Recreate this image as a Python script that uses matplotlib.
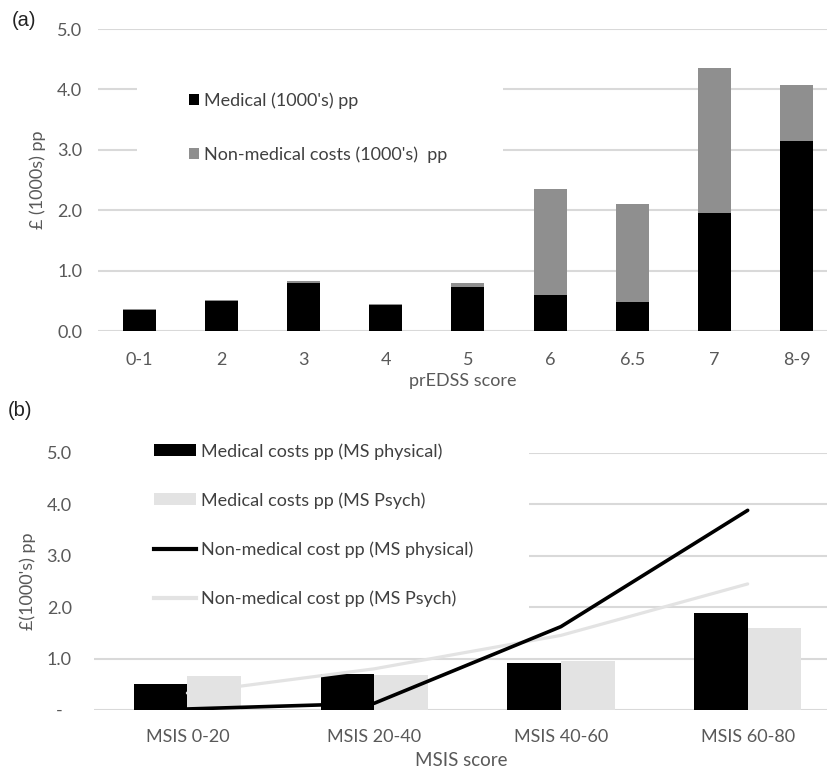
import matplotlib
matplotlib.use("Agg")
import matplotlib.pyplot as plt
import numpy as np
from matplotlib.patches import Rectangle, Patch
from matplotlib.lines import Line2D

plt.rcParams['font.family'] = ['Lato', 'DejaVu Sans']

# ---- Panel (a) data ----
edss_cats = ["0-1", "2", "3", "4", "5", "6", "6.5", "7", "8-9"]
edss_medical = [0.35, 0.50, 0.80, 0.43, 0.73, 0.59, 0.48, 1.96, 3.14]
edss_nonmedical = [0.02, 0.02, 0.03, 0.02, 0.07, 1.76, 1.62, 2.40, 0.93]

# ---- Panel (b) data ----
msis_cats = ["MSIS 0-20", "MSIS 20-40", "MSIS 40-60", "MSIS 60-80"]
msis_med_phys = [0.50, 0.70, 0.91, 1.88]
msis_med_psych = [0.66, 0.68, 0.95, 1.59]
msis_nonmed_phys = [0.02, 0.13, 1.62, 3.88]
msis_nonmed_psych = [0.33, 0.80, 1.45, 2.45]

yticks = [0, 1, 2, 3, 4, 5]
yticklabels_a = ["0.0", "1.0", "2.0", "3.0", "4.0", "5.0"]
yticklabels_b = ["-  ", "1.0", "2.0", "3.0", "4.0", "5.0"]

TXT = "#595959"
LEG = "#404040"
GRID = "#d9d9d9"
FS = 13

fig = plt.figure(figsize=(8.28, 7.75), dpi=100)

# ================= Panel (a) =================
ax1 = fig.add_axes([98/828, 1-331/775, 730/828, (331-29)/775])
x = np.arange(len(edss_cats))
ax1.bar(x, edss_medical, width=0.4, color="black", zorder=3)
ax1.bar(x, edss_nonmedical, width=0.4, bottom=edss_medical, color="#8f8f8f",
        zorder=3)
ax1.set_xlim(-0.5, 8.38)
ax1.set_ylim(0, 5.0)
ax1.set_yticks(yticks)
ax1.set_yticklabels(yticklabels_a)
ax1.set_xticks(x)
ax1.set_xticklabels(edss_cats)
ax1.yaxis.grid(True, color=GRID, linewidth=1.5, zorder=0)
ax1.set_axisbelow(True)
for s in ax1.spines.values():
    s.set_visible(False)
ax1.tick_params(axis='both', length=0, labelsize=FS, labelcolor=TXT)
ax1.tick_params(axis='x', pad=15)
ax1.tick_params(axis='y', pad=11.5)
ax1.set_xlabel("prEDSS score", fontsize=FS, color=TXT, labelpad=4)
ax1.set_ylabel("£ (1000s) pp", fontsize=FS, color=TXT, labelpad=8)
# white legend background (covers gridlines like the original)
ax1.add_patch(Rectangle((39/730, (331-172)/302), (503-137)/730, 100/302,
                        transform=ax1.transAxes, facecolor="white",
                        edgecolor="none", zorder=1))
h1 = [Patch(facecolor="black"), Patch(facecolor="#8f8f8f")]
leg1 = ax1.legend(h1, ["Medical (1000's) pp", "Non-medical costs (1000's)  pp"],
                  loc="upper left", bbox_to_anchor=(91/730, (331-92)/302),
                  frameon=False, fontsize=FS, handlelength=0.55,
                  handleheight=0.55, handletextpad=0.3, labelspacing=2.1,
                  borderaxespad=0, borderpad=0)
for t in leg1.get_texts():
    t.set_color(LEG)
fig.text(12/828, 1-21/775, "(a)", fontsize=14.5, color="#222222",
         family=['Liberation Sans', 'DejaVu Sans'], va="center", ha="left")

# ================= Panel (b) =================
ax2 = fig.add_axes([94/828, 1-710/775, 734/828, (710-452.7)/775])
xb = np.arange(len(msis_cats))
bw = 0.287
ax2.bar(xb - bw/2, msis_med_phys, width=bw, color="black", zorder=3)
ax2.bar(xb + bw/2, msis_med_psych, width=bw, color="#e3e3e3", zorder=3)
ax2.plot(xb, msis_nonmed_psych, color="#e3e3e3", linewidth=2.3, zorder=4,
         solid_capstyle="round")
ax2.plot(xb, msis_nonmed_phys, color="black", linewidth=2.6, zorder=5,
         solid_capstyle="round")
ax2.set_xlim(-0.5, 3.43)
ax2.set_ylim(0, 5.0)
ax2.set_yticks(yticks)
ax2.set_yticklabels(yticklabels_b)
ax2.set_xticks(xb)
ax2.set_xticklabels(msis_cats)
ax2.yaxis.grid(True, color=GRID, linewidth=1.5, zorder=0)
ax2.set_axisbelow(True)
for s in ax2.spines.values():
    s.set_visible(False)
ax2.tick_params(axis='both', length=0, labelsize=FS, labelcolor=TXT)
ax2.tick_params(axis='x', pad=14)
ax2.tick_params(axis='y', pad=16)
ax2.set_xlabel("MSIS score", fontsize=FS + 0.5, color=TXT, labelpad=5)
ax2.set_ylabel("£(1000's) pp", fontsize=FS, color=TXT, labelpad=8)
ax2.add_patch(Rectangle((0, (710-625)/257.3), (529-94)/734, 200/257.3,
                        transform=ax2.transAxes, facecolor="white",
                        edgecolor="none", zorder=1, clip_on=False))
h2 = [Patch(facecolor="black"), Patch(facecolor="#e3e3e3"),
      Line2D([], [], color="black", linewidth=3),
      Line2D([], [], color="#e3e3e3", linewidth=3)]
l2 = ["Medical costs pp (MS physical)", "Medical costs pp (MS Psych)",
      "Non-medical cost pp (MS physical)", "Non-medical cost pp (MS Psych)"]
leg2 = ax2.legend(h2, l2, loc="upper left",
                  bbox_to_anchor=(60/734, (710-443)/257.3),
                  frameon=False, fontsize=FS, handlelength=2.35,
                  handleheight=0.65, handletextpad=0.25, labelspacing=1.8,
                  borderaxespad=0, borderpad=0)
for t in leg2.get_texts():
    t.set_color(LEG)
fig.text(8/828, 1-410/775, "(b)", fontsize=14.5, color="#222222",
         family=['Liberation Sans', 'DejaVu Sans'], va="center", ha="left")

fig.savefig("out.png", dpi=100)
